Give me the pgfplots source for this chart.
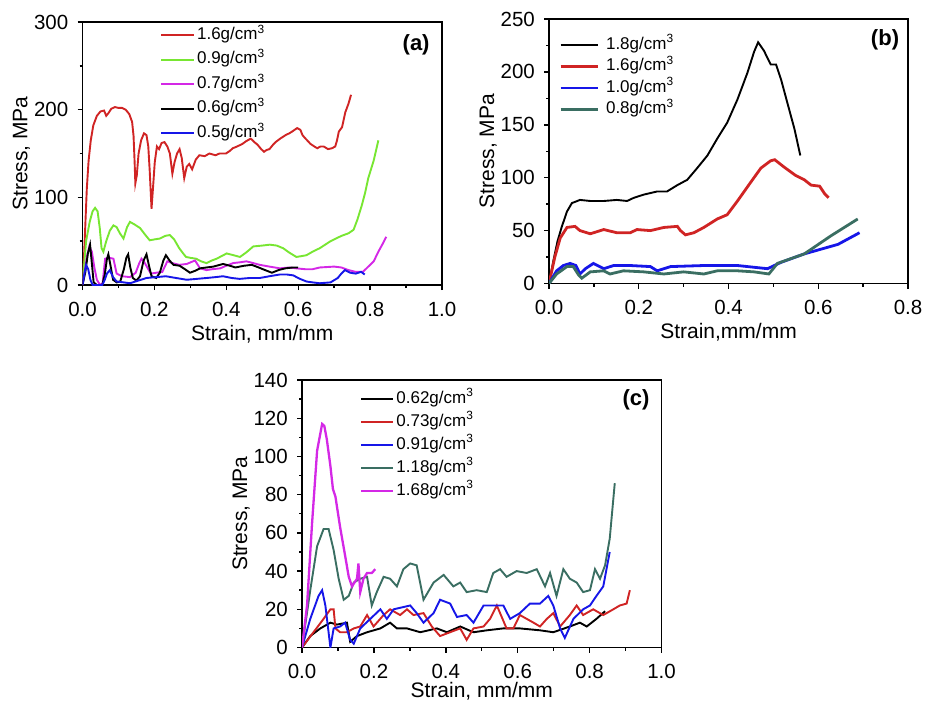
\documentclass[border=0pt]{standalone}
\usepackage{fontspec}
\setmainfont{Liberation Sans}
\usepackage{pgfplots}
\pgfplotsset{compat=1.18}

\definecolor{cRed}{RGB}{208,36,36}
\definecolor{cGreen}{RGB}{120,230,50}
\definecolor{cMag}{RGB}{212,40,230}
\definecolor{cBlue}{RGB}{22,22,232}
\definecolor{cTeal}{RGB}{58,110,98}

\tikzset{tag/.style={font=\bfseries\fontsize{22}{22}\selectfont}}

\pgfplotsset{
  panel/.style={
    scale only axis,
    xmin=0, ymin=0,
    axis line style={line width=1.6pt},
    tick align=outside, tick pos=left,
    major tick length=5pt, minor tick length=3pt,
    every tick/.style={black, line width=1.4pt},
    minor tick num=1,
    /pgf/number format/assume math mode=true,
    tick label style={font=\fontsize{20.5}{20.5}\selectfont},
    label style={font=\fontsize{21}{21}\selectfont, inner sep=0pt},
    x tick label style={anchor=base, yshift=-26pt, inner sep=0pt,
      /pgf/number format/.cd, fixed, fixed zerofill, precision=1, /tikz/.cd},
    y tick label style={anchor=east, inner sep=0pt, xshift=-9pt},
    xlabel style={at={(axis description cs:0.5,0)}, anchor=base, yshift=-55pt},
    ylabel style={at={([xshift=-55pt]axis description cs:0,0.5)}, anchor=base},
    legend style={draw=none, fill=none, anchor=north west,
      font=\fontsize{17}{17}\selectfont, legend cell align=left,
      inner sep=0pt, column sep=2pt,
      nodes={inner sep=0pt, text height=12.5pt, text depth=4pt}},
    legend image code/.code={\draw[#1] (0pt,0pt) -- (33pt,0pt);},
  },
}

\begin{document}
\begin{tikzpicture}
\useasboundingbox (0,0) rectangle (925pt,-702pt);

% ---------------- (a) ----------------
\begin{axis}[panel,
  at={(82.5pt,-285pt)}, anchor=south west,
  width=359.5pt, height=263pt,
  xmax=1.0, ymax=300,
  xtick={0,0.2,0.4,0.6,0.8,1.0}, ytick={0,100,200,300},
  xlabel={Strain, mm/mm}, ylabel={Stress, MPa},
  legend style={at={(axis description cs:0.2156,0.982)}, row sep=8pt},
]
\addplot[cRed, line width=1.9pt] coordinates {
(0,0) (0.004,30) (0.008,70) (0.012,110) (0.017,142) (0.023,165) (0.03,182)
(0.04,193) (0.05,198) (0.06,199) (0.066,193) (0.072,196) (0.08,201) (0.09,203)
(0.1,202) (0.11,202) (0.12,200) (0.13,195) (0.138,186) (0.142,170) (0.145,140)
(0.147,116) (0.151,125) (0.156,150) (0.163,165) (0.171,173) (0.178,171) (0.183,158)
(0.187,130) (0.192,87) (0.196,110) (0.201,140) (0.207,158) (0.213,155) (0.22,162)
(0.228,163) (0.236,158) (0.243,150) (0.25,127) (0.256,140) (0.263,150) (0.27,155)
(0.276,145) (0.283,122) (0.29,135) (0.297,138) (0.305,132) (0.315,143) (0.325,148)
(0.34,147) (0.353,150) (0.37,148) (0.381,150) (0.399,150) (0.41,153) (0.418,156)
(0.43,158) (0.445,161) (0.455,164) (0.468,167) (0.478,163) (0.487,160) (0.497,155)
(0.505,152) (0.512,154) (0.52,155) (0.53,160) (0.537,163) (0.55,167) (0.565,171)
(0.575,173) (0.583,175) (0.59,177) (0.597,179) (0.606,177) (0.612,171) (0.618,168)
(0.625,165) (0.634,161) (0.645,158) (0.653,156) (0.662,158) (0.671,158) (0.683,155)
(0.694,156) (0.703,158) (0.708,165) (0.713,175) (0.722,180) (0.731,197) (0.74,207)
(0.747,217)};
\addlegendentry{1.6g/cm\textsuperscript{3}}
\addplot[cGreen, line width=1.9pt] coordinates {
(0,0) (0.01,50) (0.02,72) (0.028,84) (0.035,88) (0.042,84) (0.048,65) (0.053,42)
(0.058,38) (0.066,50) (0.076,62) (0.086,68) (0.095,66) (0.104,59) (0.114,53)
(0.124,66) (0.132,72) (0.145,69) (0.16,65) (0.175,57) (0.187,51) (0.2,52)
(0.215,53) (0.23,56) (0.243,57) (0.255,52) (0.269,42) (0.28,36) (0.288,32)
(0.3,31) (0.316,30) (0.33,27) (0.345,25) (0.36,28) (0.373,30) (0.387,33)
(0.401,36) (0.42,34) (0.438,32) (0.455,37) (0.475,44) (0.5,45) (0.521,46)
(0.54,45) (0.558,42) (0.575,37) (0.595,32) (0.61,33) (0.623,34) (0.64,38)
(0.66,42) (0.675,46) (0.69,50) (0.705,53) (0.72,56) (0.74,59) (0.754,63)
(0.765,75) (0.777,91) (0.786,105) (0.795,122) (0.81,142) (0.823,165)};
\addlegendentry{0.9g/cm\textsuperscript{3}}
\addplot[cMag, line width=1.9pt] coordinates {
(0,0) (0.006,15) (0.012,32) (0.019,44) (0.026,38) (0.033,20) (0.04,6) (0.049,0)
(0.056,2) (0.063,30) (0.075,31) (0.086,30) (0.095,13) (0.11,10) (0.132,9)
(0.148,14) (0.158,25) (0.164,30) (0.172,26) (0.19,13) (0.205,14) (0.222,15)
(0.236,27) (0.25,25) (0.269,23) (0.29,24) (0.313,28) (0.327,19) (0.345,17)
(0.36,18) (0.383,19) (0.4,22) (0.419,25) (0.44,26) (0.456,27) (0.475,25)
(0.493,23) (0.52,21) (0.549,19) (0.575,20) (0.595,19) (0.62,18) (0.64,18)
(0.66,20) (0.7,21) (0.72,20) (0.74,17) (0.76,15) (0.78,15) (0.795,21) (0.81,27)
(0.823,38) (0.835,47) (0.845,55)};
\addlegendentry{0.7g/cm\textsuperscript{3}}
\addplot[black, line width=1.9pt] coordinates {
(0,0) (0.008,15) (0.015,36) (0.021,46) (0.026,25) (0.031,3) (0.04,0) (0.055,0)
(0.062,12) (0.068,30) (0.072,35) (0.078,22) (0.085,6) (0.095,3) (0.105,4)
(0.115,18) (0.122,31) (0.127,35) (0.133,20) (0.14,8) (0.15,5) (0.16,10)
(0.17,28) (0.178,35) (0.185,22) (0.192,10) (0.205,8) (0.215,14) (0.225,28)
(0.232,34) (0.242,28) (0.253,23) (0.27,22) (0.285,18) (0.299,14) (0.312,16)
(0.327,19) (0.345,20) (0.364,21) (0.391,24) (0.41,22) (0.425,20) (0.45,22)
(0.471,23) (0.49,20) (0.508,17) (0.527,14) (0.545,17) (0.564,19) (0.585,20)
(0.6,20)};
\addlegendentry{0.6g/cm\textsuperscript{3}}
\addplot[cBlue, line width=1.9pt] coordinates {
(0,0) (0.005,12) (0.01,23) (0.016,18) (0.022,6) (0.028,0) (0.055,0) (0.062,6)
(0.068,13) (0.076,17) (0.085,9) (0.095,4) (0.115,3) (0.132,2) (0.155,5) (0.178,8)
(0.205,9) (0.232,10) (0.26,8) (0.29,6) (0.318,7) (0.345,8) (0.37,9) (0.391,10)
(0.415,8) (0.437,7) (0.465,8) (0.493,8) (0.52,10) (0.549,12) (0.568,12)
(0.586,11) (0.605,7) (0.623,4) (0.64,3) (0.66,2) (0.69,3) (0.71,8) (0.72,13)
(0.73,17) (0.745,14) (0.76,13) (0.775,15) (0.785,12)};
\addlegendentry{0.5g/cm\textsuperscript{3}}
\node[tag] at (axis description cs:0.928,0.913) {(a)};
\end{axis}

% ---------------- (b) ----------------
\begin{axis}[panel,
  at={(549pt,-283.5pt)}, anchor=south west,
  width=359pt, height=264.5pt,
  xmax=0.8, ymax=250,
  xtick={0,0.2,0.4,0.6,0.8}, ytick={0,50,100,150,200,250},
  xlabel={Strain,mm/mm}, ylabel={Stress, MPa},
  legend style={at={(axis description cs:0.028,0.934)}, row sep=5pt, column sep=7pt},
  legend image code/.code={\draw[#1] (0pt,0pt) -- (37pt,0pt);},
]
\addplot[black, line width=1.9pt] coordinates {
(0,0) (0.01,22) (0.019,40) (0.028,53) (0.04,68) (0.051,76) (0.069,79) (0.092,78)
(0.122,78) (0.151,79) (0.174,78) (0.189,81) (0.211,84) (0.241,87) (0.263,87)
(0.286,93) (0.308,98) (0.33,109) (0.353,121) (0.375,137) (0.397,152) (0.42,174)
(0.442,199) (0.457,219) (0.466,228) (0.479,220) (0.494,207) (0.506,207)
(0.517,193) (0.531,171) (0.547,146) (0.56,121)};
\addlegendentry{1.8g/cm\textsuperscript{3}}
\addplot[cRed, line width=2.8pt] coordinates {
(0,0) (0.013,25) (0.025,43) (0.04,53) (0.058,54) (0.069,50) (0.092,47) (0.122,51)
(0.151,48) (0.181,48) (0.196,51) (0.226,50) (0.256,53) (0.286,54) (0.293,50)
(0.304,46) (0.323,48) (0.345,53) (0.375,61) (0.397,65) (0.42,78) (0.45,96)
(0.472,109) (0.494,116) (0.503,117) (0.524,110) (0.55,102) (0.569,98) (0.584,93)
(0.603,92) (0.614,85) (0.623,81)};
\addlegendentry{1.6g/cm\textsuperscript{3}}
\addplot[cBlue, line width=2.8pt] coordinates {
(0,0) (0.017,12) (0.032,17) (0.047,19) (0.06,17) (0.069,9) (0.081,14) (0.099,19)
(0.122,14) (0.144,17) (0.181,17) (0.226,16) (0.241,12) (0.271,16) (0.345,17)
(0.42,17) (0.487,14) (0.517,20) (0.569,28) (0.644,37) (0.692,48)};
\addlegendentry{1.0g/cm\textsuperscript{3}}
\addplot[cTeal, line width=2.8pt] coordinates {
(0,0) (0.017,9) (0.04,16) (0.054,16) (0.066,8) (0.073,5) (0.092,11) (0.122,12)
(0.136,9) (0.166,12) (0.211,11) (0.256,9) (0.3,11) (0.345,9) (0.375,12) (0.42,12)
(0.457,11) (0.49,9) (0.509,19) (0.569,28) (0.628,45) (0.688,61)};
\addlegendentry{0.8g/cm\textsuperscript{3}}
\node[tag] at (axis description cs:0.936,0.921) {(b)};
\end{axis}

% ---------------- (c) ----------------
\begin{axis}[panel,
  at={(302pt,-647.5pt)}, anchor=south west,
  width=359.5pt, height=267.5pt,
  xmax=1.0, ymax=140,
  xtick={0,0.2,0.4,0.6,0.8,1.0}, ytick={0,20,40,60,80,100,120,140},
  xlabel={Strain, mm/mm}, ylabel={Stress, MPa},
  xlabel style={yshift=5pt},
  legend style={at={(axis description cs:0.161,0.961)}, row sep=6.5pt},
  legend image code/.code={\draw[#1] (0pt,0pt) -- (32pt,0pt);},
]
\addplot[black, line width=1.9pt] coordinates {
(0,0) (0.023,6) (0.051,10) (0.079,13) (0.097,12) (0.125,13) (0.134,3) (0.153,6)
(0.181,8) (0.218,10) (0.245,13) (0.264,10) (0.292,10) (0.329,8) (0.375,10)
(0.403,8) (0.44,11) (0.477,8) (0.514,9) (0.56,10) (0.606,10) (0.662,9) (0.699,8)
(0.745,11) (0.773,13) (0.792,11) (0.819,15) (0.843,19)};
\addlegendentry{0.62g/cm\textsuperscript{3}}
\addplot[cRed, line width=1.9pt] coordinates {
(0,0) (0.032,8) (0.06,15) (0.079,20) (0.088,20) (0.093,10) (0.106,8) (0.125,8)
(0.144,10) (0.162,11) (0.181,17) (0.199,11) (0.227,17) (0.245,20) (0.273,17)
(0.292,20) (0.31,17) (0.338,18) (0.361,11) (0.384,6) (0.412,8) (0.44,10)
(0.458,4) (0.477,10) (0.505,11) (0.523,15) (0.542,22) (0.569,10) (0.588,10)
(0.606,17) (0.625,15) (0.644,13) (0.662,11) (0.681,15) (0.699,18) (0.718,11)
(0.745,17) (0.764,22) (0.782,17) (0.81,20) (0.838,17) (0.866,20) (0.884,22)
(0.903,23) (0.912,30)};
\addlegendentry{0.73g/cm\textsuperscript{3}}
\addplot[cBlue, line width=1.9pt] coordinates {
(0,0) (0.023,15) (0.046,27) (0.056,30) (0.065,22) (0.079,0) (0.088,10) (0.106,11)
(0.12,13) (0.134,4) (0.144,2) (0.162,10) (0.19,15) (0.218,20) (0.236,15)
(0.255,20) (0.278,21) (0.301,22) (0.319,18) (0.338,13) (0.366,18) (0.384,25)
(0.412,23) (0.431,16) (0.458,17) (0.477,13) (0.505,22) (0.532,22) (0.56,22)
(0.579,15) (0.606,18) (0.634,23) (0.662,23) (0.685,27) (0.699,22) (0.718,10)
(0.731,5) (0.755,15) (0.782,20) (0.801,22) (0.819,27) (0.838,32) (0.856,50)};
\addlegendentry{0.91g/cm\textsuperscript{3}}
\addplot[cTeal, line width=1.9pt] coordinates {
(0,0) (0.023,30) (0.042,53) (0.06,62) (0.074,62) (0.088,51) (0.102,36) (0.116,25)
(0.13,27) (0.144,34) (0.162,36) (0.181,37) (0.194,22) (0.208,29) (0.227,37)
(0.245,36) (0.264,32) (0.282,41) (0.301,44) (0.319,43) (0.338,25) (0.366,34)
(0.394,38) (0.421,32) (0.44,34) (0.458,29) (0.486,30) (0.514,29) (0.532,39)
(0.551,41) (0.569,37) (0.597,40) (0.625,39) (0.653,41) (0.676,32) (0.69,39)
(0.708,27) (0.727,41) (0.745,36) (0.764,34) (0.782,29) (0.801,30) (0.815,41)
(0.829,36) (0.843,43) (0.856,57) (0.87,86)};
\addlegendentry{1.18g/cm\textsuperscript{3}}
\addplot[cMag, line width=2.3pt] coordinates {
(0,0) (0.014,22) (0.028,65) (0.042,103) (0.056,117) (0.062,116) (0.069,109)
(0.079,95) (0.086,83) (0.093,79) (0.097,74) (0.106,63) (0.12,48) (0.13,37)
(0.139,32) (0.153,36) (0.157,44) (0.162,29) (0.171,36) (0.181,39) (0.194,39)
(0.204,41)};
\addlegendentry{1.68g/cm\textsuperscript{3}}
\node[tag] at (axis description cs:0.929,0.925) {(c)};
\end{axis}
\end{tikzpicture}
\end{document}
